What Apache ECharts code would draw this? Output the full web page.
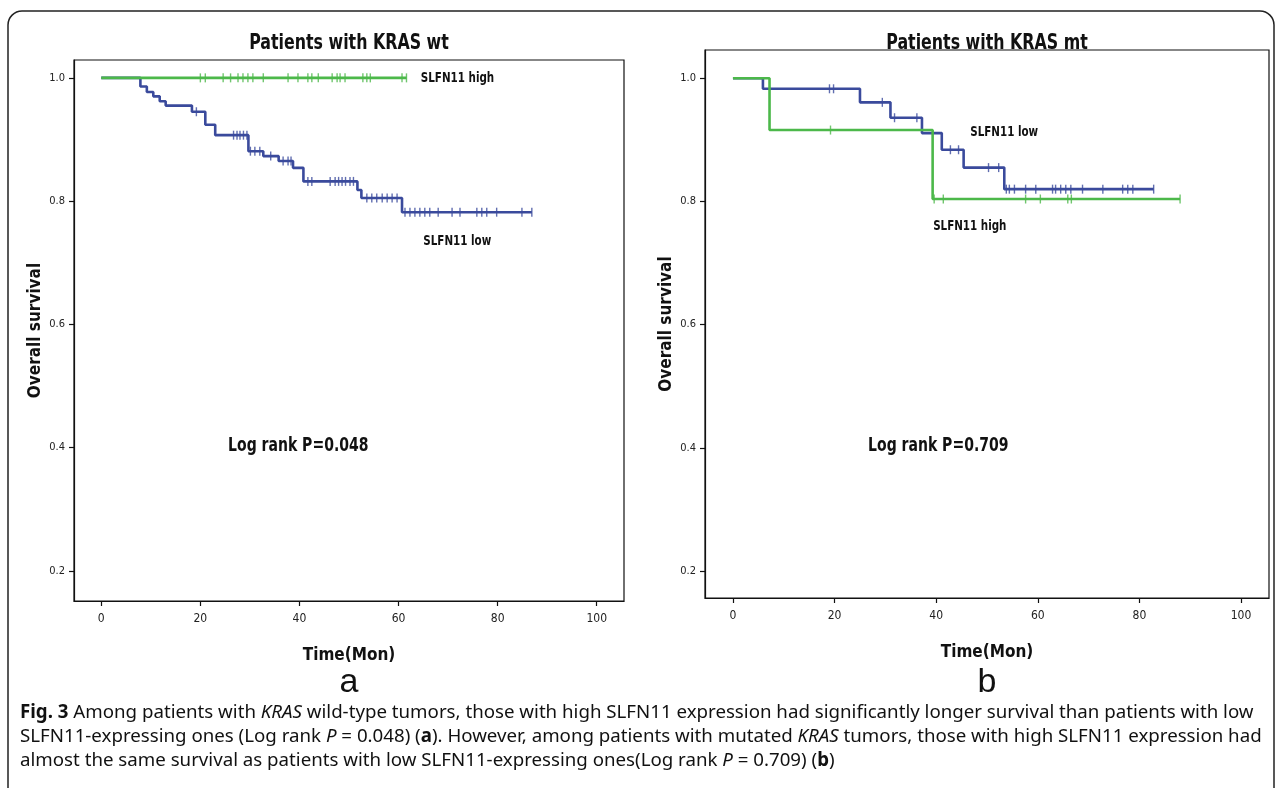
<!DOCTYPE html>
<html>
<head>
<meta charset="utf-8">
<script src="https://cdn.jsdelivr.net/npm/echarts@6/dist/echarts.min.js"></script>
<style>
html, body { margin: 0; background: #fff; }
#chart { width: 1281px; height: 788px; }
</style>
</head>
<body>
<div id="chart"></div>
<script>
'use strict';

// tick values
var xTicks = [0, 20, 40, 60, 80, 100];
var yTicks = [0.2, 0.4, 0.6, 0.8, 1.0];

// a: KRAS wt  -- step points [time, survival]
var wtLowSteps = [[0, 1], [7.9, 0.986], [9.2, 0.977], [10.5, 0.970], [11.8, 0.962], [13, 0.955],
    [18.3, 0.945], [21, 0.924], [23, 0.907], [29.7, 0.881], [32.7, 0.873], [35.8, 0.865],
    [38.7, 0.854], [40.8, 0.832], [51.7, 0.818], [52.5, 0.805], [60.7, 0.782], [86.9, 0.782]];
var wtLowCensor = [[19.2, 0.945], [26.7, 0.907], [27.4, 0.907], [28, 0.907], [28.7, 0.907], [29.4, 0.907],
    [30.1, 0.881], [31, 0.881], [32, 0.881], [34.2, 0.873], [36.7, 0.865], [37.7, 0.865], [38.3, 0.865],
    [41.7, 0.832], [42.5, 0.832], [46.2, 0.832], [47.2, 0.832], [47.9, 0.832], [48.6, 0.832], [49.3, 0.832],
    [50.2, 0.832], [50.9, 0.832], [53.6, 0.805], [54.6, 0.805], [55.6, 0.805], [56.7, 0.805], [57.7, 0.805],
    [58.7, 0.805], [59.7, 0.805], [61.3, 0.782], [62.3, 0.782], [63.3, 0.782], [64.3, 0.782], [65.3, 0.782],
    [66.3, 0.782], [68, 0.782], [70.8, 0.782], [72.4, 0.782], [75.8, 0.782], [76.8, 0.782], [77.8, 0.782],
    [79.8, 0.782], [84.9, 0.782], [86.9, 0.782]];
var wtHighSteps = [[0, 1], [61.6, 1]];
var wtHighCensor = [[20, 1], [21, 1], [24.6, 1], [26.1, 1], [27.6, 1], [28.6, 1], [29.6, 1], [30.6, 1],
    [32.7, 1], [37.7, 1], [39.7, 1], [41.7, 1], [42.5, 1], [43.8, 1], [46.6, 1], [47.6, 1], [48.2, 1],
    [49.2, 1], [52.8, 1], [53.6, 1], [54.3, 1], [60.7, 1], [61.6, 1]];

// b: KRAS mt
var mtLowSteps = [[0, 1], [5.9, 0.983], [25, 0.961], [31, 0.936], [37.2, 0.911], [41.1, 0.884],
    [45.4, 0.855], [53.4, 0.820], [82.8, 0.820]];
var mtLowCensor = [[19, 0.983], [19.8, 0.983], [29.4, 0.961], [31.8, 0.936], [36.2, 0.936],
    [42.8, 0.884], [44.4, 0.884], [50.3, 0.855], [52.3, 0.855], [53.8, 0.820], [54.4, 0.820],
    [55.4, 0.820], [57.6, 0.820], [59.6, 0.820], [62.9, 0.820], [63.5, 0.820], [64.5, 0.820],
    [65.5, 0.820], [66.5, 0.820], [68.8, 0.820], [72.8, 0.820], [76.7, 0.820], [77.7, 0.820],
    [78.7, 0.820], [82.8, 0.820]];
var mtHighSteps = [[0, 1], [7.2, 0.916], [39.3, 0.804], [88, 0.804]];
var mtHighCensor = [[19.2, 0.916], [39.6, 0.804], [41.4, 0.804], [57.6, 0.804], [60.5, 0.804],
    [65.9, 0.804], [66.6, 0.804], [88, 0.804]];

// text labels inside the plots, anchored in data units [panel, time, survival, text]
var curveNotes = [[0, 64.5, 1.0, 'SLFN11 high'], [0, 65, 0.735, 'SLFN11 low'],
    [1, 46.7, 0.912, 'SLFN11 low'], [1, 39.4, 0.759, 'SLFN11 high']];
var logRankNotes = [[0, 25.6, 0.403, 'Log rank P=0.048'], [1, 26.6, 0.403, 'Log rank P=0.709']];

var panelTitles = ['Patients with KRAS wt', 'Patients with KRAS mt'];
var panelLetters = ['a', 'b'];

var narrow = "'DejaVu Sans Condensed', 'Liberation Sans Narrow', sans-serif";
var blue = '#3a4a9c';
var green = '#4cb84a';

var chart = echarts.init(document.getElementById('chart'));

function xAxisFor(idx) {
    return {
        type: 'value', gridIndex: idx, min: -5.5, max: 105.5,
        axisLine: { show: true, onZero: false, lineStyle: { color: '#111', width: 1.2 } },
        axisTick: { show: true, customValues: xTicks, length: 5, lineStyle: { color: '#111', width: 1.2 } },
        axisLabel: { customValues: xTicks, color: '#222', fontFamily: narrow, fontSize: 12, margin: 12 },
        splitLine: { show: false },
        name: 'Time(Mon)', nameLocation: 'middle', nameGap: 46,
        nameTextStyle: { fontFamily: narrow, fontWeight: 'bold', fontSize: 17, color: '#111' }
    };
}

function yAxisFor(idx, min, max) {
    return {
        type: 'value', gridIndex: idx, min: min, max: max,
        axisLine: { show: true, onZero: false, lineStyle: { color: '#111', width: 1.2 } },
        axisTick: { show: true, customValues: yTicks, length: 5, lineStyle: { color: '#111', width: 1.2 } },
        axisLabel: {
            customValues: yTicks, color: '#222', fontFamily: narrow, fontSize: 11, margin: 9,
            formatter: function (v) { return v.toFixed(1); }
        },
        splitLine: { show: false },
        name: 'Overall survival', nameLocation: 'middle', nameGap: 30, nameRotate: 90,
        nameTextStyle: { fontFamily: narrow, fontWeight: 'bold', fontSize: 17, color: '#111' }
    };
}

function curve(idx, steps, color) {
    return {
        type: 'line', xAxisIndex: idx, yAxisIndex: idx, step: 'end', data: steps,
        symbol: 'none', lineStyle: { color: color, width: 2.6 }, animation: false, silent: true
    };
}

function censor(idx, pts, color) {
    return {
        type: 'scatter', xAxisIndex: idx, yAxisIndex: idx, data: pts,
        symbol: 'rect', symbolSize: [1.4, 9], itemStyle: { color: color }, animation: false, silent: true
    };
}

chart.setOption({
    backgroundColor: '#fff',
    animation: false,
    grid: [
        { left: 74, right: 657, top: 60, bottom: 187, show: true, borderColor: '#111', borderWidth: 1.2 },
        { left: 705, right: 12, top: 50, bottom: 190, show: true, borderColor: '#111', borderWidth: 1.2 }
    ],
    xAxis: [xAxisFor(0), xAxisFor(1)],
    yAxis: [yAxisFor(0, 0.151, 1.029), yAxisFor(1, 0.156, 1.046)],
    series: [
        curve(0, wtLowSteps, blue), censor(0, wtLowCensor, blue),
        curve(0, wtHighSteps, green), censor(0, wtHighCensor, green),
        curve(1, mtLowSteps, blue), censor(1, mtLowCensor, blue),
        curve(1, mtHighSteps, green), censor(1, mtHighCensor, green)
    ]
});

// texts: titles, panel letters, notes, caption
var captionFont = 'Noto Sans';
var captionSize = 18.7;
var captionRich = {
    b: { fontFamily: captionFont, fontWeight: 'bold', fontSize: captionSize, color: '#111' },
    i: { fontFamily: captionFont, fontStyle: 'italic', fontSize: captionSize, color: '#111' }
};
var captionLines = [
    '{b|Fig. 3} Among patients with {i|KRAS} wild-type tumors, those with high SLFN11 expression had significantly longer survival than patients with low',
    'SLFN11-expressing ones (Log rank {i|P} = 0.048) ({b|a}). However, among patients with mutated {i|KRAS} tumors, those with high SLFN11 expression had',
    'almost the same survival as patients with low SLFN11-expressing ones(Log rank {i|P} = 0.709) ({b|b})'
];

var graphics = [{
    type: 'rect', shape: { x: 8, y: 11, width: 1266, height: 800, r: 14 },
    style: { fill: 'none', stroke: '#222', lineWidth: 1.5 }, silent: true
}];
[349, 987].forEach(function (cx, i) {
    graphics.push({
        type: 'text', x: cx, y: 43, scaleX: 0.8,
        style: { text: panelTitles[i], align: 'center', verticalAlign: 'middle',
            fontFamily: narrow, fontWeight: 'bold', fontSize: 22, fill: '#111' }
    });
    graphics.push({
        type: 'text', x: cx, y: 683,
        style: { text: panelLetters[i], align: 'center', verticalAlign: 'middle',
            fontFamily: 'Liberation Sans', fontSize: 34, fill: '#111' }
    });
});
function pushNote(n, size) {
    var p = chart.convertToPixel({ gridIndex: n[0] }, [n[1], n[2]]);
    graphics.push({
        type: 'text', x: p[0], y: p[1], scaleX: 0.82,
        style: { text: n[3], align: 'left', verticalAlign: 'middle',
            fontFamily: narrow, fontWeight: 'bold', fontSize: size, fill: '#111' }
    });
}
curveNotes.forEach(function (n) { pushNote(n, 14); });
logRankNotes.forEach(function (n) { pushNote(n, 19); });
captionLines.forEach(function (line, i) {
    graphics.push({
        type: 'text', x: 20, y: 713 + i * 24,
        style: { text: line, rich: captionRich, verticalAlign: 'middle',
            fontFamily: captionFont, fontSize: captionSize, fill: '#111' }
    });
});

chart.setOption({ graphic: graphics });
</script>
</body>
</html>
